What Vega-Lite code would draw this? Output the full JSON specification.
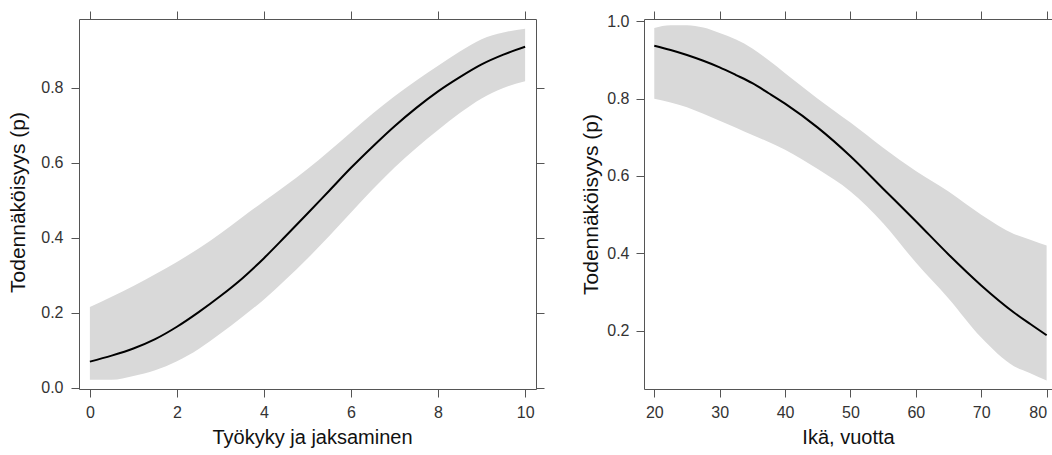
{
  "$schema": "https://vega.github.io/schema/vega-lite/v6.json",
  "autosize": {"type": "none"},
  "padding": {"left": 79, "top": 19, "right": 973, "bottom": 436},
  "bounds": "flush",
  "spacing": 108,
  "background": "white",
  "config": {
    "view": {"stroke": null},
    "axis": {
      "domainColor": "#555", "tickColor": "#555", "tickSize": 8, "domainWidth": 1, "tickWidth": 1,
      "labelFont": "Liberation Sans", "labelFontSize": 16, "labelColor": "#333", "labelPadding": 7,
      "titleFont": "Liberation Sans", "titleFontSize": 20, "titleFontWeight": "normal", "titleColor": "#111",
      "grid": false, "zindex": 1
    }
  },
  "datasets": {
    "tyokyky": [
      {"x": 0, "fit": 0.070, "lower": 0.022, "upper": 0.216},
      {"x": 0.5, "fit": 0.086, "lower": 0.022, "upper": 0.243},
      {"x": 1, "fit": 0.105, "lower": 0.032, "upper": 0.272},
      {"x": 1.5, "fit": 0.130, "lower": 0.047, "upper": 0.303},
      {"x": 2, "fit": 0.163, "lower": 0.071, "upper": 0.336},
      {"x": 2.5, "fit": 0.202, "lower": 0.104, "upper": 0.372},
      {"x": 3, "fit": 0.245, "lower": 0.145, "upper": 0.412},
      {"x": 3.5, "fit": 0.292, "lower": 0.189, "upper": 0.455},
      {"x": 4, "fit": 0.346, "lower": 0.236, "upper": 0.498},
      {"x": 4.5, "fit": 0.405, "lower": 0.289, "upper": 0.540},
      {"x": 5, "fit": 0.465, "lower": 0.345, "upper": 0.584},
      {"x": 5.5, "fit": 0.526, "lower": 0.405, "upper": 0.632},
      {"x": 6, "fit": 0.587, "lower": 0.468, "upper": 0.682},
      {"x": 6.5, "fit": 0.644, "lower": 0.530, "upper": 0.732},
      {"x": 7, "fit": 0.698, "lower": 0.588, "upper": 0.778},
      {"x": 7.5, "fit": 0.747, "lower": 0.640, "upper": 0.820},
      {"x": 8, "fit": 0.791, "lower": 0.688, "upper": 0.859},
      {"x": 8.5, "fit": 0.829, "lower": 0.733, "upper": 0.897},
      {"x": 9, "fit": 0.863, "lower": 0.772, "upper": 0.930},
      {"x": 9.5, "fit": 0.889, "lower": 0.800, "upper": 0.948},
      {"x": 10, "fit": 0.910, "lower": 0.818, "upper": 0.958}
    ],
    "ika": [
      {"x": 20, "fit": 0.937, "lower": 0.800, "upper": 0.983},
      {"x": 22.5, "fit": 0.926, "lower": 0.790, "upper": 0.990},
      {"x": 25, "fit": 0.913, "lower": 0.778, "upper": 0.990},
      {"x": 27.5, "fit": 0.898, "lower": 0.761, "upper": 0.984},
      {"x": 30, "fit": 0.881, "lower": 0.743, "upper": 0.970},
      {"x": 32.5, "fit": 0.861, "lower": 0.725, "upper": 0.953},
      {"x": 35, "fit": 0.840, "lower": 0.706, "upper": 0.930},
      {"x": 37.5, "fit": 0.814, "lower": 0.688, "upper": 0.899},
      {"x": 40, "fit": 0.787, "lower": 0.668, "upper": 0.866},
      {"x": 45, "fit": 0.725, "lower": 0.618, "upper": 0.800},
      {"x": 50, "fit": 0.651, "lower": 0.560, "upper": 0.738},
      {"x": 55, "fit": 0.567, "lower": 0.478, "upper": 0.673},
      {"x": 60, "fit": 0.483, "lower": 0.376, "upper": 0.613},
      {"x": 65, "fit": 0.397, "lower": 0.283, "upper": 0.560},
      {"x": 70, "fit": 0.317, "lower": 0.182, "upper": 0.500},
      {"x": 75, "fit": 0.247, "lower": 0.108, "upper": 0.450},
      {"x": 77.5, "fit": 0.217, "lower": 0.090, "upper": 0.435},
      {"x": 80, "fit": 0.188, "lower": 0.071, "upper": 0.420}
    ]
  },
  "hconcat": [
    {
      "width": 457, "height": 370,
      "data": {"name": "tyokyky"},
      "layer": [
        {
          "mark": {"type": "area", "color": "#d9d9d9", "opacity": 1, "interpolate": "monotone"},
          "encoding": {
            "x": {"field": "x", "type": "quantitative",
                  "scale": {"domain": [-0.25, 10.25], "nice": false, "zero": false},
                  "axis": {"orient": "bottom", "values": [0, 2, 4, 6, 8, 10], "format": "d",
                           "title": "Työkyky ja jaksaminen", "titleX": 233, "titleY": 48, "titleBaseline": "middle", "titleAlign": "center"}},
            "y": {"field": "lower", "type": "quantitative",
                  "scale": {"domain": [-0.003, 0.984], "nice": false, "zero": false},
                  "axis": {"orient": "left", "values": [0, 0.2, 0.4, 0.6, 0.8], "format": ".1f", "labelPadding": 8,
                           "title": "Todennäköisyys (p)", "titleFontSize": 21, "titleX": -61, "titleY": 183, "titleBaseline": "middle", "titleAlign": "center", "titleAngle": 270}},
            "y2": {"field": "upper"}
          }
        },
        {
          "mark": {"type": "line", "color": "#000000", "strokeWidth": 2, "interpolate": "monotone"},
          "encoding": {
            "x": {"field": "x", "type": "quantitative",
                  "axis": {"orient": "top", "values": [0, 2, 4, 6, 8, 10], "labels": false, "title": null}},
            "y": {"field": "fit", "type": "quantitative",
                  "axis": {"orient": "right", "values": [0, 0.2, 0.4, 0.6, 0.8], "labels": false, "title": null}}
          }
        }
      ],
      "resolve": {"axis": {"x": "independent", "y": "independent"}}
    },
    {
      "width": 408, "height": 370,
      "data": {"name": "ika"},
      "layer": [
        {
          "mark": {"type": "area", "color": "#d9d9d9", "opacity": 1, "interpolate": "monotone"},
          "encoding": {
            "x": {"field": "x", "type": "quantitative",
                  "scale": {"domain": [18.43, 80.82], "nice": false, "zero": false},
                  "axis": {"orient": "bottom", "values": [20, 30, 40, 50, 60, 70, 80], "format": "d", "labelFlush": 7,
                           "title": "Ikä, vuotta", "titleX": 204, "titleY": 48, "titleBaseline": "middle", "titleAlign": "center"}},
            "y": {"field": "lower", "type": "quantitative",
                  "scale": {"domain": [0.049, 1.006], "nice": false, "zero": false},
                  "axis": {"orient": "left", "values": [0.2, 0.4, 0.6, 0.8, 1.0], "format": ".1f",
                           "title": "Todennäköisyys (p)", "titleFontSize": 21, "titleX": -53, "titleY": 185, "titleBaseline": "middle", "titleAlign": "center", "titleAngle": 270}},
            "y2": {"field": "upper"}
          }
        },
        {
          "mark": {"type": "line", "color": "#000000", "strokeWidth": 2, "interpolate": "monotone"},
          "encoding": {
            "x": {"field": "x", "type": "quantitative",
                  "axis": {"orient": "top", "values": [20, 30, 40, 50, 60, 70, 80], "labels": false, "title": null}},
            "y": {"field": "fit", "type": "quantitative", "axis": null}
          }
        }
      ],
      "resolve": {"axis": {"x": "independent", "y": "independent"}}
    }
  ]
}
